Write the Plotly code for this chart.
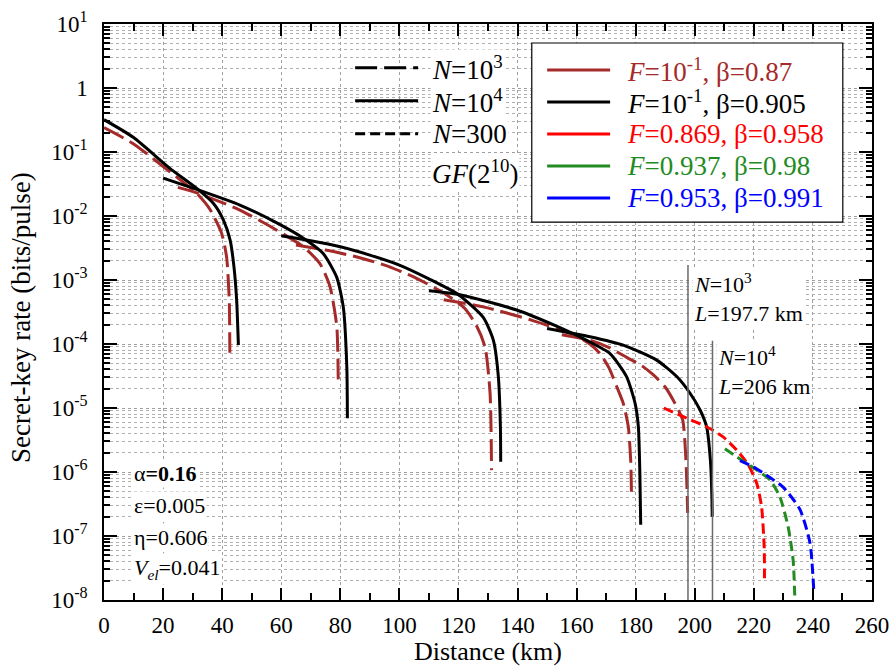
import plotly.graph_objects as go

# ---------------- data ----------------
# N = 10^4, F = 10^-1, beta = 0.905  (solid black), five segments
n4_x1 = [0, 9.9, 22.3, 31.4, 37, 40.4, 42.7, 44, 44.9, 45.5]
n4_y1 = [0.32, 0.17, 0.0556, 0.027, 0.0158, 0.0087, 0.0042, 0.0016, 4.9e-4, 9.6e-5]
n4_x2 = [20, 31.4, 46, 58.5, 67.5, 74.2, 78.8, 81, 82.2, 82.4]
n4_y2 = [0.039, 0.026, 0.0148, 0.0078, 0.0045, 0.0026, 0.0011, 3.8e-4, 4.4e-5, 6.9e-6]
n4_x3 = [60, 70, 80, 90, 100, 110, 120, 128.4, 131.8, 133.5, 134.2, 134.3]
n4_y3 = [0.0049, 0.0041, 0.0033, 0.00245, 0.00171, 0.00104, 5.9e-4, 2.6e-4, 1.15e-4, 3.1e-5, 5e-6, 1.45e-6]
n4_x4 = [110, 120.5, 139.7, 153.2, 163.4, 171.3, 176.9, 179.8, 180.9, 181.4, 181.7]
n4_y4 = [6.8e-4, 5.9e-4, 3.4e-4, 1.9e-4, 1.14e-4, 7.1e-5, 3.1e-5, 1.18e-5, 5.1e-6, 1e-6, 1.5e-7]
n4_x5 = [150, 164.5, 175.8, 187.1, 193.9, 198.4, 201.8, 204, 205.3, 205.8, 205.9]
n4_y5 = [1.75e-4, 1.3e-4, 9.6e-5, 5.6e-5, 3.1e-5, 1.7e-5, 9.3e-6, 5.1e-6, 1.5e-6, 4e-7, 2e-7]

# N = 10^3, F = 10^-1, beta = 0.87  (long-dashed brown), five segments
n3_x1 = [0, 9.9, 22.3, 31.4, 36, 39.8, 41.5, 42.4, 42.6]
n3_y1 = [0.24, 0.135, 0.049, 0.0226, 0.0124, 0.0054, 0.0023, 4.9e-4, 7.3e-5]
n3_x2 = [25, 31.4, 46, 58.5, 67.5, 73.1, 76.5, 78.8, 79.3]
n3_y2 = [0.028, 0.023, 0.0124, 0.006, 0.0033, 0.0018, 7.9e-4, 1.9e-4, 2.8e-5]
n3_x3 = [65, 75, 85, 95, 105, 115, 122, 126, 129, 130.7, 131.2]
n3_y3 = [0.00352, 0.00294, 0.00233, 0.00171, 0.00111, 6.26e-4, 3.65e-4, 1.98e-4, 8.97e-5, 1.71e-5, 1.07e-6]
n3_x4 = [115, 128.4, 144.2, 160, 164.5, 168, 171, 173.6, 175.8, 177.5, 178.3, 178.6]
n3_y4 = [4.9e-4, 3.8e-4, 2.4e-4, 1.33e-4, 1e-4, 7e-5, 4.2e-5, 2.15e-5, 1.18e-5, 5.1e-6, 1.54e-6, 3.9e-7]
n3_x5 = [155, 165, 171, 177.5, 182, 186, 189.9, 193.3, 195.9, 197, 197.6]
n3_y5 = [1.4e-4, 1.13e-4, 8.8e-5, 5.97e-5, 4.6e-5, 3.28e-5, 2.15e-5, 1.18e-5, 6.5e-6, 1.55e-6, 2.3e-7]

# N = 300 (short-dashed)
red_x = [189.5, 197.3, 204, 209.7, 214.2, 218.1, 221, 222.6, 223.5, 223.6]
red_y = [1e-5, 6.9e-6, 5.1e-6, 3.5e-6, 2.2e-6, 1.3e-6, 6.6e-7, 2.9e-7, 6.8e-8, 1.9e-8]
green_x = [210.2, 215.3, 221, 225.5, 228.8, 231.6, 233.3, 233.9]
green_y = [2.3e-6, 1.6e-6, 1.07e-6, 7.5e-7, 4.1e-7, 1.4e-7, 4.2e-8, 1e-8]
blue_x = [215.3, 219.8, 224.3, 229.9, 235.6, 239, 240.3]
blue_y = [1.5e-6, 1.2e-6, 8.9e-7, 5.8e-7, 2.6e-7, 7.8e-8, 1.4e-8]

# distance limits marked with vertical lines
limit_L = [197.7, 206]
limit_top = [1.71e-3, 1.12e-4]
limit_bottom = [1e-8, 1e-8]
limit_text = ["<i>N</i>=10<sup>3</sup><br><i>L</i>=197.7 km",
              "<i>N</i>=10<sup>4</sup><br><i>L</i>=206 km"]
limit_text_y = [-3.28, -4.42]

# ticks
x_ticks = list(range(0, 261, 20))
y_tickvals = [10.0 ** k for k in range(1, -9, -1)]
y_ticktext = ["10<sup>1</sup>", "1", "10<sup>-1</sup>", "10<sup>-2</sup>", "10<sup>-3</sup>",
              "10<sup>-4</sup>", "10<sup>-5</sup>", "10<sup>-6</sup>", "10<sup>-7</sup>", "10<sup>-8</sup>"]

# legends
legend_right = ["<i>F</i>=10<sup>-1</sup>, β=0.87", "<i>F</i>=10<sup>-1</sup>, β=0.905",
                "<i>F</i>=0.869, β=0.958", "<i>F</i>=0.937, β=0.98", "<i>F</i>=0.953, β=0.991"]
legend_right_colors = ["#A52A2A", "#000000", "#FF0000", "#228B22", "#0000FF"]
legend_left = ["<i>N</i>=10<sup>3</sup>", "<i>N</i>=10<sup>4</sup>", "<i>N</i>=300"]
legend_left_dash = ["22px,7px", "solid", "10px,5px"]
params_text = ["α<b>=0.16</b>", "ε=0.005", "η=0.606", "<i>V</i><sub><i>el</i></sub>=0.041"]
x_title = "Distance (km)"
y_title = "Secret-key rate (bits/pulse)"

# ---------------- styling ----------------
FONT = "Liberation Serif, Times New Roman, Times, serif"
BROWN, BLACK = "#A52A2A", "#000000"
LW = 3
LONG_DASH = "22px,7px"
SHORT_DASH = "10px,5px"

fig = go.Figure()

def add_line(x, y, color, dash):
    fig.add_trace(go.Scatter(x=x, y=y, mode="lines", showlegend=False, hoverinfo="skip",
                             line=dict(color=color, width=LW, dash=dash, shape="spline", smoothing=0.6)))

for xs, ys in [(n3_x1, n3_y1), (n3_x2, n3_y2), (n3_x3, n3_y3), (n3_x4, n3_y4), (n3_x5, n3_y5)]:
    add_line(xs, ys, BROWN, LONG_DASH)
for xs, ys in [(n4_x1, n4_y1), (n4_x2, n4_y2), (n4_x3, n4_y3), (n4_x4, n4_y4), (n4_x5, n4_y5)]:
    add_line(xs, ys, BLACK, "solid")
add_line(red_x, red_y, "#FF0000", SHORT_DASH)
add_line(green_x, green_y, "#228B22", SHORT_DASH)
add_line(blue_x, blue_y, "#0000FF", SHORT_DASH)

for L, top, bot in zip(limit_L, limit_top, limit_bottom):
    fig.add_trace(go.Scatter(x=[L, L], y=[top, bot], mode="lines", showlegend=False, hoverinfo="skip",
                             line=dict(color="#6a6a6a", width=1.5)))

for L, txt, ty in zip(limit_L, limit_text, limit_text_y):
    fig.add_annotation(x=L, y=ty, xref="x", yref="y", text=txt, showarrow=False,
                       xanchor="left", yanchor="middle", align="left", xshift=4,
                       bgcolor="white", font=dict(family=FONT, size=22, color="black"))

# parameter block (bottom left)
for i, t in enumerate(params_text):
    fig.add_annotation(x=0.037, y=0.220 - i * 0.0555, xref="paper", yref="paper", text=t,
                       showarrow=False, xanchor="left", yanchor="middle", bgcolor="white",
                       font=dict(family=FONT, size=22, color="black"))

# right legend (boxed)
fig.add_shape(type="rect", xref="paper", yref="paper", x0=0.557, x1=0.962, y0=0.656, y1=0.967,
              line=dict(color="black", width=1.2), fillcolor="white", layer="above")
for i, (t, c) in enumerate(zip(legend_right, legend_right_colors)):
    yy = 0.920 - i * 0.0555
    fig.add_shape(type="line", xref="paper", yref="paper", x0=0.577, x1=0.659, y0=yy, y1=yy,
                  line=dict(color=c, width=LW), layer="above")
    fig.add_annotation(x=0.679, y=yy, xref="paper", yref="paper", text=t, showarrow=False,
                       xanchor="left", yanchor="middle", font=dict(family=FONT, size=27, color=c))

# left legend (line styles)
for i, (t, d) in enumerate(zip(legend_left, legend_left_dash)):
    yy = 0.924 - i * 0.0573
    fig.add_shape(type="line", xref="paper", yref="paper", x0=0.327, x1=0.409, y0=yy, y1=yy,
                  line=dict(color="black", width=LW, dash=d), layer="above")
    fig.add_annotation(x=0.424, y=yy, xref="paper", yref="paper", text=t, showarrow=False,
                       xanchor="left", yanchor="middle", bgcolor="white",
                       font=dict(family=FONT, size=27, color="black"))
fig.add_annotation(x=0.424, y=0.743, xref="paper", yref="paper", text="<i>GF</i>(2<sup>10</sup>)",
                   showarrow=False, xanchor="left", yanchor="middle", bgcolor="white",
                   font=dict(family=FONT, size=27, color="black"))

# y-axis title placed as rotated text
fig.add_annotation(x=-0.109, y=0.49, xref="paper", yref="paper", text=y_title, textangle=-90,
                   showarrow=False, xanchor="center", yanchor="middle",
                   font=dict(family=FONT, size=27, color="black"))

minor_y = [m * 10.0 ** k for k in range(-8, 1) for m in range(2, 10)]

fig.update_layout(
    width=895, height=666,
    margin=dict(l=104, r=23, t=24, b=66, autoexpand=False),
    paper_bgcolor="white", plot_bgcolor="white",
    font=dict(family=FONT, size=23, color="black"),
    xaxis=dict(range=[0, 260], tickvals=x_ticks, ticks="inside", ticklen=12, tickwidth=1.5,
               tickcolor="black", showline=True, linecolor="black", linewidth=1.5, mirror="ticks",
               showgrid=True, gridcolor="#a0a0a0", griddash="dot", gridwidth=1, zeroline=False,
               tickfont=dict(family=FONT, size=23), ticklabelstandoff=4, automargin=False,
               minor=dict(dtick=10, ticks="inside", ticklen=7, tickwidth=1.5, tickcolor="black",
                          showgrid=False),
               title=dict(text=x_title, font=dict(family=FONT, size=26), standoff=2)),
    yaxis=dict(type="log", range=[-8, 1], tickvals=y_tickvals, ticktext=y_ticktext,
               ticks="inside", ticklen=13, tickwidth=1.5, tickcolor="black",
               showline=True, linecolor="black", linewidth=1.5, mirror="ticks",
               showgrid=True, gridcolor="#a0a0a0", griddash="dot", gridwidth=1, zeroline=False,
               tickfont=dict(family=FONT, size=23), ticklabelstandoff=10, automargin=False,
               minor=dict(tickvals=minor_y, ticks="inside", ticklen=6, tickwidth=1.5,
                          tickcolor="black", showgrid=True, gridcolor="#b0b0b0",
                          griddash="dot", gridwidth=1)),
)

fig.write_html("out.html")
